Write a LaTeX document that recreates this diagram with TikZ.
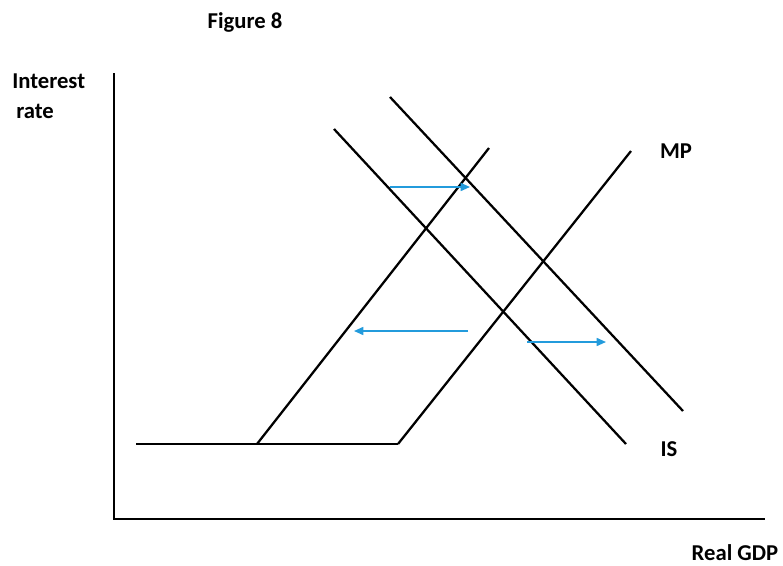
\documentclass[tikz,border=0pt]{standalone}
\usepackage{fontspec}
\setmainfont{Carlito}
\usepackage{tikz}
\usetikzlibrary{arrows.meta}
\usepackage{xcolor}
\definecolor{shiftblue}{RGB}{35,155,220}

\begin{document}
\begin{tikzpicture}[x=0.75pt,y=-0.75pt,
    curve/.style={black,line width=1.7pt},
    shiftarrow/.style={shiftblue,line width=1.2pt,-{Triangle[length=7pt,width=6pt]}},
    lab/.style={font=\fontsize{17}{20}\selectfont\bfseries}]
        \useasboundingbox (0,0) rectangle (783,565);
        % axes
        \coordinate (top) at (114,73);
        \coordinate (origin) at (114,519);
        \coordinate (right) at (765,519);
        \draw[curve] (top)--(origin)--(right);
        \node[lab] (title) at (245,22) {Figure 8};
        \node[lab,align=left,anchor=north west,inner sep=0pt,font=\fontsize{17}{22}\selectfont\bfseries] (ylab) at (12,74) {Interest\\\hspace{3pt}rate};
        \node[lab] (xlab) at (735,553) {Real GDP};
        % MP curves with the flat floor
        \coordinate (floorL) at (136,444);
        \coordinate (kinkA) at (257,444);
        \coordinate (kinkB) at (398,444);
        \coordinate (mpA) at (489,148);
        \coordinate (mpB) at (631,151);
        \draw[curve] (floorL)--(kinkB);
        \draw[curve] (kinkA)--(mpA);
        \draw[curve] (kinkB)--(mpB);
        \node[lab] (mp) at (676,151) {MP};
        % IS curves
        \coordinate (isA1) at (334,129);
        \coordinate (isA2) at (626,444);
        \coordinate (isB1) at (390,97);
        \coordinate (isB2) at (683,411);
        \draw[curve] (isA1)--(isA2);
        \draw[curve] (isB1)--(isB2);
        \node[lab] (is) at (669,449) {IS};
        % shifts
        \coordinate (s1) at (390,187);
        \coordinate (e1) at (470,187);
        \coordinate (s2) at (468,331);
        \coordinate (e2) at (354,331);
        \coordinate (s3) at (527,342);
        \coordinate (e3) at (606,342);
        \draw[shiftarrow] (s1)--(e1);
        \draw[shiftarrow] (s2)--(e2);
        \draw[shiftarrow] (s3)--(e3);
      \end{tikzpicture}
\end{document}
